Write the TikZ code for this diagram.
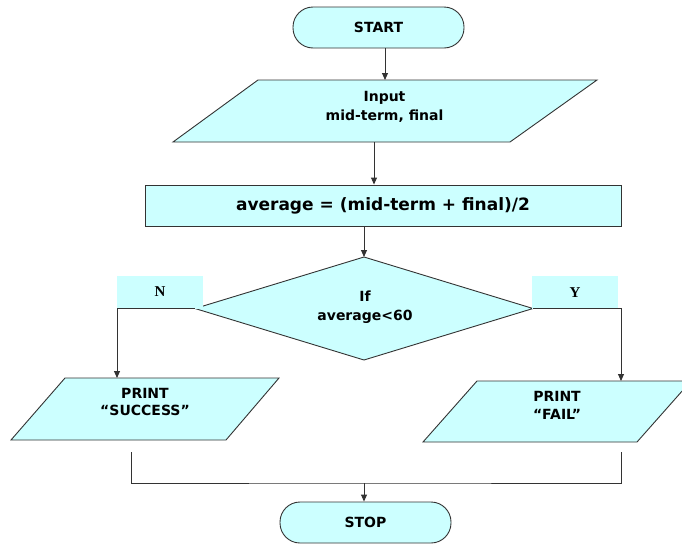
\documentclass[tikz,border=0pt]{standalone}
\usepackage{fontspec}
\setmainfont{DejaVu Sans}
\newfontfamily\serifbf{Liberation Serif}
\usetikzlibrary{arrows.meta}
\definecolor{boxfill}{HTML}{CCFFFF}
\definecolor{edgec}{HTML}{333333}
\begin{document}
\begin{tikzpicture}[x=1pt,y=-1pt,
  font=\bfseries\fontsize{14}{17}\selectfont,
  shp/.style={fill=boxfill, draw=edgec, line width=0.9pt},
  spanbox/.style={inner sep=0pt, outer sep=0pt, draw=none},
  txt/.style={align=center, inner sep=0pt},
  term/.style={shp, rounded corners=20pt, minimum width=171pt, minimum height=41pt, inner sep=0pt},
  conn/.style={draw=edgec, line width=0.9pt},
  arr/.style={conn, -{Triangle[length=7pt,width=6pt]}},
  lab/.style={fill=boxfill, inner sep=0pt, font=\serifbf\bfseries\fontsize{15}{17}\selectfont}
]
\useasboundingbox (0,0) rectangle (682,544);

% START
\node[term] (start) at (378.5,27.5) {START};

% Input
\node[spanbox, minimum width=424pt, minimum height=62pt] (in) at (385,111) {};
\draw[shp] ([xshift=85pt]in.north west) -- (in.north east) -- ([xshift=-87pt]in.south east) -- (in.south west) -- cycle;
\node[txt, font=\bfseries\fontsize{14}{19}\selectfont] (inT) at (384.5,107) {Input\\mid-term, final};

% average
\node[shp, minimum width=476pt, minimum height=41pt, inner sep=0pt, font=\bfseries\fontsize{17}{20}\selectfont] (avg) at (383,205.5) {average = (mid-term + final)/2};

% decision
\node[spanbox, minimum width=338pt, minimum height=103pt] (dia) at (364,308.5) {};
\draw[shp] (dia.north) -- (dia.east) -- (dia.south) -- (dia.west) -- cycle;
\node[txt, font=\bfseries\fontsize{14}{19}\selectfont] (diaT) at (365,307.5) {If\\average<60};

% N / Y labels
\node[lab, minimum width=86pt, minimum height=33pt] (nlab) at (160,292) {N};
\node[lab, minimum width=86pt, minimum height=32.5pt] (ylab) at (575,292.25) {Y};

% outputs
\node[spanbox, minimum width=268pt, minimum height=62pt] (succ) at (145,409) {};
\draw[shp] ([xshift=54pt]succ.north west) -- (succ.north east) -- ([xshift=-53pt]succ.south east) -- (succ.south west) -- cycle;
\node[txt] (succT) at (145,401.5) {PRINT\\“SUCCESS”};

\node[spanbox, minimum width=268pt, minimum height=61pt] (fail) at (557,411.5) {};
\draw[shp] ([xshift=54pt]fail.north west) -- (fail.north east) -- ([xshift=-54pt]fail.south east) -- (fail.south west) -- cycle;
\node[txt, font=\bfseries\fontsize{14}{18}\selectfont] (failT) at (557,405) {PRINT\\“FAIL”};

% STOP
\node[term] (stop) at (365.5,522.5) {STOP};

% connectors
\draw[arr] ([xshift=6.5pt]start.south) -- ([xshift=6.5pt]start.south |- in.north);
\draw[arr] ([xshift=-11pt]in.south) -- ([xshift=-11pt]in.south |- avg.north);
\draw[arr] (avg.south -| dia.north) -- (dia.north);
\draw[arr] (dia.west) -| ([xshift=106pt]succ.north west);
\draw[arr] (dia.east) -| ([xshift=198pt]fail.north west);

\coordinate (ml) at (131,452);
\coordinate (mr) at (621,452);
\coordinate (mj) at (364,483);
\draw[conn] (ml) |- (mj) -| (mr);
\draw[arr] (mj) -- (mj |- stop.north);
\end{tikzpicture}
\end{document}
